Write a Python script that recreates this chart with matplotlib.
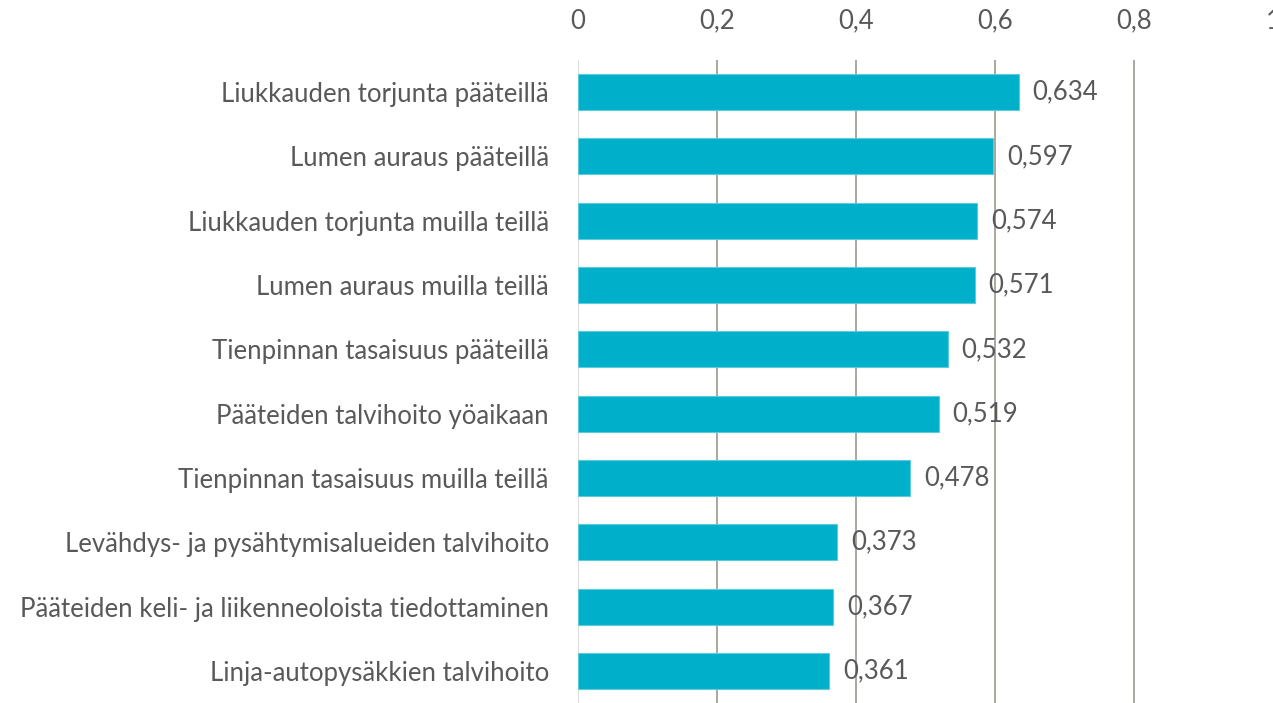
import matplotlib
matplotlib.use("Agg")
import matplotlib.pyplot as plt
from matplotlib.ticker import FuncFormatter

CATEGORIES = [
    "Liukkauden torjunta pääteillä",
    "Lumen auraus pääteillä",
    "Liukkauden torjunta muilla teillä",
    "Lumen auraus muilla teillä",
    "Tienpinnan tasaisuus pääteillä",
    "Pääteiden talvihoito yöaikaan",
    "Tienpinnan tasaisuus muilla teillä",
    "Levähdys- ja pysähtymisalueiden talvihoito",
    "Pääteiden keli- ja liikenneoloista tiedottaminen",
    "Linja-autopysäkkien talvihoito",
]
VALUES = [0.634, 0.597, 0.574, 0.571, 0.532, 0.519, 0.478, 0.373, 0.367, 0.361]
X_TICKS = [0, 0.2, 0.4, 0.6, 0.8, 1.0]

BAR_COLOR = "#00B0CA"
TEXT_COLOR = "#595959"
GRID_COLOR = "#A59F99"
FS = 18.5

plt.rcParams["font.family"] = ["Lato", "DejaVu Sans"]

fig = plt.figure(figsize=(12.73, 7.03), dpi=100)
ax = fig.add_axes([578 / 1273, 0.0, 695 / 1273, 1 - 60 / 703])

ypos = list(range(len(CATEGORIES)))
ax.barh(ypos, VALUES, height=0.56, color=BAR_COLOR, edgecolor="#5CCBDB",
        linewidth=0.8, zorder=3)

for y, v in zip(ypos, VALUES):
    ax.text(v + 0.02, y, f"{v:.3f}".replace(".", ","), va="center", ha="left",
            fontsize=FS, color=TEXT_COLOR, zorder=4)

ax.set_xlim(0, 1.0)
ax.set_ylim(len(CATEGORIES) - 0.5, -0.5)
ax.set_xticks(X_TICKS)
ax.xaxis.set_major_formatter(FuncFormatter(lambda x, _: f"{x:g}".replace(".", ",")))
ax.xaxis.tick_top()
ax.tick_params(axis="x", length=0, pad=19, labelsize=FS, labelcolor=TEXT_COLOR)
ax.set_yticks(ypos)
ax.set_yticklabels(CATEGORIES)
ax.tick_params(axis="y", length=0, pad=21, labelsize=FS, labelcolor=TEXT_COLOR)

for xv in X_TICKS[1:-1]:
    ax.axvline(xv, color=GRID_COLOR, linewidth=1.3, zorder=1)
ax.axvline(0, color="#D9D9D9", linewidth=1.3, zorder=2)

for s in ax.spines.values():
    s.set_visible(False)

fig.savefig("out.png", dpi=100)
